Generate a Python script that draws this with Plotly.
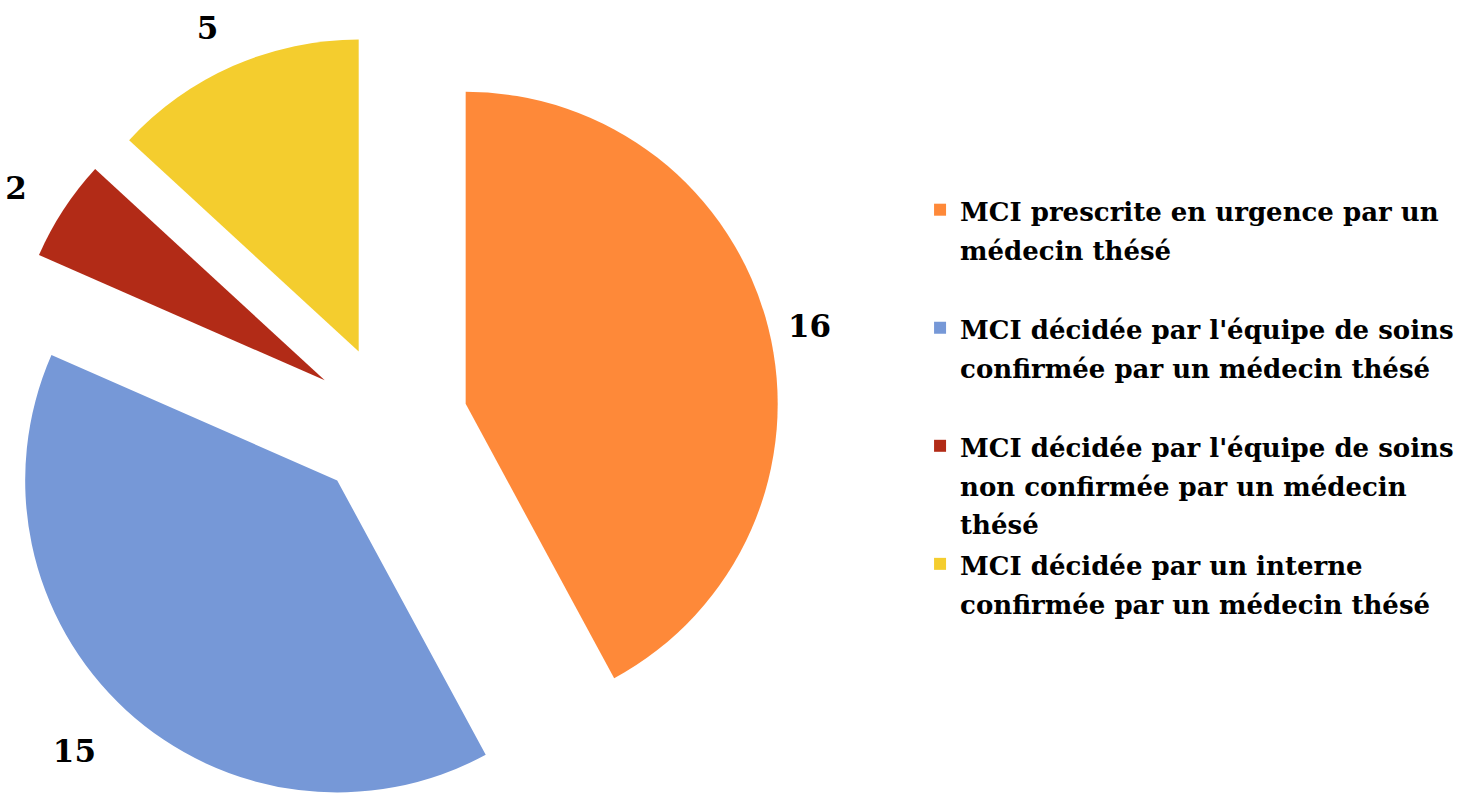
import plotly.graph_objects as go

# Slice categories (legend text, line breaks included) and counts
labels = [
    "MCI prescrite en urgence par un<br>médecin thésé",
    "MCI décidée par l'équipe de soins<br>confirmée par un médecin thésé",
    "MCI décidée par l'équipe de soins<br>non confirmée par un médecin<br>thésé",
    "MCI décidée par un interne<br>confirmée par un médecin thésé",
]
values = [16, 15, 2, 5]
colors = ["#FE8939", "#7698D7", "#B22B17", "#F4CD2E"]

FONT = "DejaVu Serif"
LEGEND_LINE = 29.5    # sets the legend line pitch
LEGEND_TEXT = 26      # glyph size of the legend text
VALUE_TEXT = 31       # glyph size of the value labels
N_LINES = max(lab.count("<br>") + 1 for lab in labels)
NB = "\u00a0"

# value labels, with blank padding that sets them a little further off each slice;
# the base font size of each label fixes the height of its padding line
VAL = f'<span style="font-size:{VALUE_TEXT}px">%{{value}}</span>'
value_templates = [
    NB + VAL,
    NB + "<br>" + VAL + NB,
    VAL + f'<span style="font-size:{VALUE_TEXT}px">{NB}{NB}</span><br>' + NB,
    VAL + "<br>" + NB,
]
label_base_sizes = [31, 31, 20.5, 20.5]


def legend_entry(lab):
    # pad every entry to the same number of lines so entries are evenly spaced
    pad = N_LINES - (lab.count("<br>") + 1)
    body = f'<span style="font-size:{LEGEND_TEXT}px">{lab}</span>'
    return body + ("<br>" + NB) * pad


value_font = dict(family=FONT, size=label_base_sizes, color="black", weight="bold")

fig = go.Figure(
    go.Pie(
        labels=[legend_entry(l) for l in labels],
        values=values,
        sort=False,
        direction="clockwise",
        rotation=0,
        pull=[0.25, 0.25, 0.25, 0.25],
        marker=dict(colors=colors, line=dict(width=0)),
        texttemplate=value_templates,
        textposition="outside",
        textfont=value_font,
        outsidetextfont=value_font,
        hoverinfo="label+value",
        domain=dict(x=[0, 0.5278], y=[0, 1]),
    )
)

# the exploded pie runs off the lower edge of the visible window
fig.update_layout(
    width=1478,
    height=818,
    margin=dict(l=0, r=0, t=28, b=0, autoexpand=False),
    paper_bgcolor="white",
    plot_bgcolor="white",
    showlegend=True,
    legend=dict(
        x=0.6225,
        xanchor="left",
        y=0.8025,
        yanchor="top",
        valign="top",
        font=dict(family=FONT, size=LEGEND_LINE, color="black", weight="bold"),
        bgcolor="rgba(0,0,0,0)",
        borderwidth=0,
    ),
)

fig.write_html("out.html")
